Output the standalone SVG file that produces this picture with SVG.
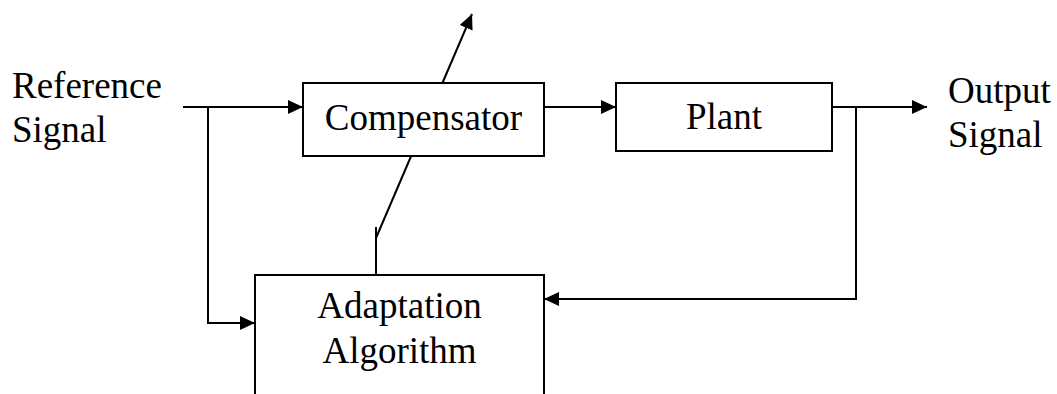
<svg xmlns="http://www.w3.org/2000/svg" width="1057" height="394" viewBox="0 0 1057 394">
  <style>
    .box { fill: #fff; stroke: #000; stroke-width: 2; }
    .wire { fill: none; stroke: #000; stroke-width: 2; }
    .lbl { font-family: "Liberation Serif", "Times New Roman", serif; font-size: 37px; fill: #000; }
    .mid { text-anchor: middle; }
  </style>
  <defs>
    <marker id="arrow" markerWidth="16" markerHeight="14" refX="15" refY="7" orient="auto" markerUnits="userSpaceOnUse">
      <path d="M0,0 L15,7 L0,14 Z" fill="#000"/>
    </marker>
  </defs>

  <g id="connectors">
    <!-- adjustment arrow crossing the compensator -->
    <line class="wire" x1="376" y1="238" x2="472" y2="14" marker-end="url(#arrow)"/>
    <polyline class="wire" points="376,275 376,227"/>
    <!-- reference signal to compensator -->
    <line class="wire" x1="183" y1="107" x2="303" y2="107" marker-end="url(#arrow)"/>
    <!-- reference branch to adaptation -->
    <polyline class="wire" points="208,107 208,323 255,323" marker-end="url(#arrow)"/>
    <!-- compensator to plant -->
    <line class="wire" x1="544" y1="107" x2="616" y2="107" marker-end="url(#arrow)"/>
    <!-- plant to output -->
    <line class="wire" x1="832" y1="107" x2="927" y2="107" marker-end="url(#arrow)"/>
    <!-- output feedback to adaptation -->
    <polyline class="wire" points="856,107 856,299 544,299" marker-end="url(#arrow)"/>
  </g>

  <g id="compensator">
    <rect class="box" x="303" y="83" width="241" height="73"/>
    <text class="lbl mid" x="423.5" y="130">Compensator</text>
  </g>

  <g id="plant">
    <rect class="box" x="616" y="83" width="216" height="68"/>
    <text class="lbl mid" x="724" y="129">Plant</text>
  </g>

  <g id="adaptation">
    <path class="box" d="M255,396 L255,275 L544,275 L544,396"/>
    <text class="lbl mid" x="399.5" y="318">Adaptation</text>
    <text class="lbl mid" x="399.5" y="363">Algorithm</text>
  </g>

  <g id="reference-label">
    <text class="lbl" x="12" y="98">Reference</text>
    <text class="lbl" x="12" y="142">Signal</text>
  </g>

  <g id="output-label">
    <text class="lbl" x="948" y="103">Output</text>
    <text class="lbl" x="948" y="147">Signal</text>
  </g>
</svg>
